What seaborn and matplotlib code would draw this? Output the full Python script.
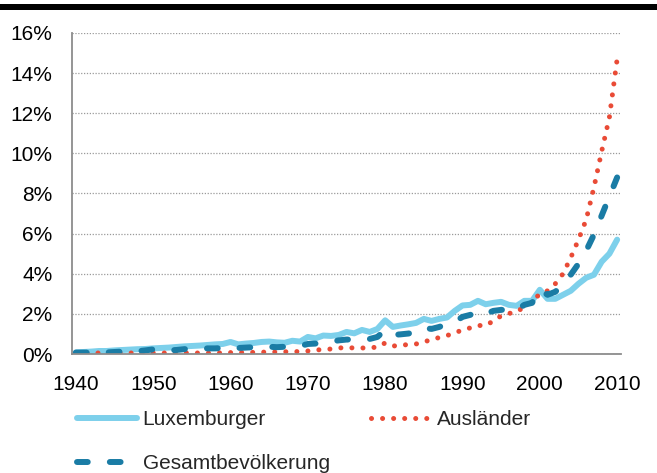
import pandas as pd
import seaborn as sns
import matplotlib.pyplot as plt
from matplotlib.ticker import FixedLocator, FuncFormatter
from matplotlib.patches import Rectangle

years = list(range(1940, 2011))

luxemburger = [
    0.08, 0.10, 0.12, 0.15, 0.15, 0.18, 0.20, 0.22, 0.24, 0.25,
    0.28, 0.30, 0.32, 0.35, 0.38, 0.40, 0.42, 0.45, 0.48, 0.50,
    0.60, 0.48, 0.52, 0.55, 0.60, 0.62, 0.58, 0.56, 0.66, 0.62,
    0.85, 0.78, 0.92, 0.90, 0.95, 1.10, 1.03, 1.20, 1.10, 1.25,
    1.68, 1.35, 1.42, 1.48, 1.55, 1.75, 1.65, 1.75, 1.82, 2.15,
    2.42, 2.45, 2.65, 2.48, 2.55, 2.60, 2.45, 2.40, 2.65, 2.65,
    3.20, 2.75, 2.75, 2.95, 3.15, 3.50, 3.80, 3.95, 4.60, 5.00, 5.70,
]

auslaender = [
    0.05, 0.05, 0.05, 0.05, 0.05, 0.05, 0.05, 0.05, 0.05, 0.05,
    0.05, 0.05, 0.05, 0.05, 0.05, 0.05, 0.05, 0.05, 0.05, 0.06,
    0.07, 0.07, 0.08, 0.08, 0.09, 0.10, 0.10, 0.11, 0.12, 0.12,
    0.15, 0.20, 0.22, 0.25, 0.30, 0.32, 0.30, 0.30, 0.30, 0.35,
    0.55, 0.40, 0.42, 0.48, 0.50, 0.60, 0.72, 0.82, 0.92, 1.05,
    1.20, 1.30, 1.42, 1.42, 1.65, 1.90, 2.02, 2.10, 2.35, 2.60,
    3.00, 3.15, 3.50, 4.00, 4.80, 5.70, 6.70, 8.30, 10.10, 11.80, 14.70,
]

gesamt = [
    0.07, 0.07, 0.07, 0.08, 0.08, 0.10, 0.12, 0.12, 0.14, 0.18,
    0.23, 0.20, 0.18, 0.20, 0.24, 0.28, 0.28, 0.28, 0.28, 0.30,
    0.38, 0.30, 0.32, 0.34, 0.38, 0.36, 0.34, 0.36, 0.42, 0.40,
    0.50, 0.52, 0.62, 0.62, 0.68, 0.72, 0.72, 0.78, 0.75, 0.85,
    1.20, 0.95, 0.98, 1.02, 1.08, 1.30, 1.25, 1.35, 1.50, 1.60,
    1.85, 1.95, 2.10, 2.00, 2.15, 2.20, 2.20, 2.20, 2.45, 2.55,
    3.20, 2.95, 3.10, 3.45, 3.95, 4.50, 5.15, 5.95, 6.90, 7.85, 8.80,
]

yticks = [0, 2, 4, 6, 8, 10, 12, 14, 16]
xticks = [1940, 1950, 1960, 1970, 1980, 1990, 2000, 2010]

df = pd.DataFrame({"Jahr": years, "Luxemburger": luxemburger,
                   "Ausländer": auslaender, "Gesamtbevölkerung": gesamt})

sns.set_style("white")
plt.rcParams["font.family"] = ["Liberation Sans", "DejaVu Sans"]

fig = plt.figure(figsize=(6.57, 4.73), dpi=100)
ax = fig.add_axes([72 / 657, 1 - 354 / 473, 549 / 657, 321 / 473])

# black rule at the very top
fig.add_artist(Rectangle((0, 1 - 10 / 473), 1, 6 / 473, transform=fig.transFigure,
                         color="black", lw=0))

sns.lineplot(data=df, x="Jahr", y="Luxemburger", ax=ax, color="#7dd0eb", lw=4.3,
             solid_capstyle="round", label="Luxemburger")
l_lux = ax.lines[-1]
sns.lineplot(data=df, x="Jahr", y="Ausländer", ax=ax, color="#e94b36", lw=3.6,
             label="Ausländer")
l_aus = ax.lines[-1]
l_aus.set_linestyle((0, (0.01, 2.2)))
l_aus.set_dash_capstyle("round")
sns.lineplot(data=df, x="Jahr", y="Gesamtbevölkerung", ax=ax, color="#1a7ca5", lw=4.3,
             label="Gesamtbevölkerung")
l_ges = ax.lines[-1]
l_ges.set_linestyle((0, (1.8, 3.7)))
l_ges.set_dash_capstyle("round")

ax.set_xlim(1939.5, 2010.5)
ax.set_ylim(0, 16)
ax.set_xlabel("")
ax.set_ylabel("")

ax.set_yticks(yticks)
ax.yaxis.set_major_formatter(FuncFormatter(lambda v, p: f"{v:.0f}%"))
ax.set_xticks(xticks)
ax.xaxis.set_minor_locator(FixedLocator([y - 0.5 for y in years] + [2010.5]))
ax.tick_params(axis="y", length=0, pad=14, labelsize=15, labelcolor="black")
ax.tick_params(axis="x", which="major", length=0, pad=15, labelsize=15, labelcolor="black")
ax.tick_params(axis="x", which="minor", length=5, width=1.2, color="#8c8c8c",
               direction="out")

ax.grid(axis="y", color="#9a9a9a", lw=0.9, linestyle=(0, (1, 1.3)))
ax.grid(axis="x", visible=False)
for side in ["top", "right"]:
    ax.spines[side].set_visible(False)
for side in ["left", "bottom"]:
    ax.spines[side].set_color("#8c8c8c")
    ax.spines[side].set_linewidth(1.3)
ax.set_axisbelow(True)

ax.legend(handles=[l_lux, l_ges, l_aus],
          labels=["Luxemburger", "Gesamtbevölkerung", "Ausländer"],
          ncol=2, loc="upper left", bbox_to_anchor=(77 / 657, 1 - 410 / 473),
          bbox_transform=fig.transFigure, frameon=False, fontsize=15,
          handlelength=2.9, handletextpad=0.25, columnspacing=2.0,
          labelspacing=1.2, borderpad=0, borderaxespad=0)

fig.savefig("out.png", dpi=100)
